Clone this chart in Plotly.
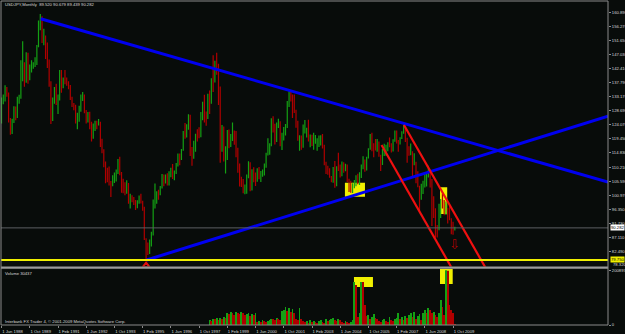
import plotly.graph_objects as go
import pandas as pd

# ---------------- data ----------------
START_MONTH = "1988-06-01"
N_BARS = 258
symbol_header = "USDJPY,Monthly  89.520 90.679 89.439 90.282"

open_ = [
    124.8, 132.6, 133.1, 134.7, 134.2, 125.9, 122.2,
    125.9, 129.6, 126.8, 132.6, 132.9, 143.6, 144.2, 138.1, 145.2, 139.5, 143.0, 143.5,
    143.8, 144.5, 149.9, 157.6, 158.8, 151.8, 152.9, 146.5, 144.0, 137.7, 129.3, 132.6,
    135.4, 131.0, 132.9, 140.6, 136.6, 138.7, 138.4, 137.6, 136.9, 132.8, 130.6, 129.5,
    124.9, 125.6, 129.2, 133.0, 133.6, 128.0, 125.8, 127.7, 123.6, 119.9, 123.3, 124.8,
    124.7, 124.9, 117.8, 115.4, 111.1, 107.6, 106.5, 104.7, 104.2, 105.6, 108.1, 109.0,
    111.9, 108.3, 104.3, 102.8, 101.9, 104.6, 98.5, 100.1, 99.6, 98.5, 97.0, 98.6,
    99.6, 99.0, 96.9, 86.6, 84.0, 83.2, 84.7, 88.4, 97.4, 99.7, 102.0, 101.6,
    103.4, 107.0, 104.9, 106.8, 104.6, 108.6, 109.8, 106.9, 108.5, 111.4, 114.0, 113.6,
    115.9, 121.3, 120.2, 124.0, 126.9, 116.5, 114.6, 118.4, 121.0, 120.7, 120.5, 127.8,
    130.5, 127.0, 126.2, 133.4, 132.3, 138.8, 138.4, 144.4, 141.8, 136.1, 116.1, 123.3,
    113.6, 116.3, 119.7, 118.4, 119.4, 121.4, 121.1, 114.6, 109.6, 106.2, 104.1, 102.1,
    102.2, 107.4, 110.2, 102.8, 108.2, 107.7, 106.1, 109.5, 106.7, 108.1, 109.0, 111.2,
    114.4, 116.6, 117.4, 126.0, 123.6, 119.1, 124.7, 125.0, 118.8, 119.4, 122.5, 123.4,
    131.0, 134.6, 133.6, 132.7, 128.6, 124.3, 119.6, 119.9, 118.4, 121.8, 122.5, 122.5,
    118.8, 119.8, 117.7, 118.1, 118.9, 119.4, 119.8, 120.4, 116.8, 111.4, 109.8, 109.6,
    107.2, 105.9, 109.2, 104.2, 110.4, 109.5, 108.7, 111.4, 109.2, 110.2, 105.8, 103.1,
    102.6, 103.6, 104.6, 107.2, 104.9, 108.3, 110.9, 112.4, 111.2, 113.5, 116.3, 119.8,
    117.9, 117.2, 115.8, 117.7, 113.8, 112.4, 114.4, 114.6, 117.4, 118.0, 116.9, 115.8,
    119.0, 121.0, 118.6, 117.8, 119.5, 121.7, 123.2, 118.7, 115.8, 114.8, 115.3, 111.3,
    111.7, 106.4, 103.8, 99.7, 104.0, 105.5, 106.2, 108.1, 108.8, 106.0, 98.5, 95.5,
    90.6, 89.9, 97.6, 98.8, 98.6, 95.3, 96.4, 94.7, 93.0, 89.9, 89.52,
]
high = [
    133.0, 134.0, 137.0, 136.4, 134.6, 126.3, 126.0,
    130.1, 130.0, 133.2, 133.9, 145.2, 151.4, 144.5, 147.8, 147.6, 143.8, 145.2, 144.5,
    146.2, 150.2, 158.2, 160.35, 159.6, 155.5, 153.3, 151.0, 145.4, 138.3, 133.0, 136.4,
    137.5, 134.0, 142.0, 142.0, 139.5, 142.0, 139.5, 138.3, 137.1, 133.2, 131.2, 130.6,
    128.0, 130.3, 134.0, 134.8, 134.0, 128.9, 128.2, 128.3, 125.0, 124.5, 125.4, 125.4,
    125.9, 125.0, 119.5, 116.0, 112.0, 110.0, 110.4, 105.6, 107.5, 108.4, 109.4, 112.8,
    113.6, 108.6, 106.4, 105.2, 105.9, 105.0, 101.5, 101.0, 100.4, 99.4, 99.3, 100.9,
    101.5, 99.2, 97.2, 86.9, 85.5, 86.5, 89.0, 99.6, 104.8, 102.3, 102.8, 104.0,
    107.9, 107.8, 107.8, 108.2, 108.8, 110.0, 111.2, 109.1, 111.5, 114.6, 114.6, 116.1,
    122.0, 124.6, 124.2, 127.5, 127.3, 116.8, 118.8, 121.1, 122.6, 123.2, 128.2, 131.6,
    133.9, 128.4, 134.2, 135.3, 139.3, 146.8, 145.0, 147.66, 144.0, 136.6, 124.0, 123.5,
    117.0, 122.3, 122.5, 121.0, 124.8, 122.2, 122.0, 116.5, 111.4, 107.0, 106.3, 104.5,
    107.8, 112.1, 111.8, 109.5, 110.1, 108.4, 109.8, 110.2, 108.9, 109.4, 111.4, 114.9,
    119.6, 118.0, 126.2, 126.8, 124.4, 124.8, 126.0, 125.2, 121.4, 123.3, 124.3, 131.8,
    135.0, 135.15, 134.0, 134.0, 129.0, 125.4, 120.6, 120.5, 124.1, 125.6, 123.1, 125.7,
    120.9, 120.8, 121.4, 120.7, 119.6, 120.5, 120.6, 121.0, 117.5, 111.9, 110.6, 109.8,
    107.3, 110.2, 112.2, 110.5, 114.9, 111.0, 112.0, 111.8, 111.3, 111.0, 106.4, 105.7,
    104.9, 106.0, 107.5, 108.0, 108.5, 111.0, 113.7, 112.7, 113.6, 116.4, 121.0, 121.4,
    118.0, 119.4, 119.4, 118.6, 114.2, 116.1, 117.8, 117.5, 118.3, 119.9, 118.0, 119.3,
    122.2, 122.2, 119.1, 120.0, 121.9, 124.14, 123.7, 119.8, 117.0, 117.9, 115.4, 114.7,
    111.9, 108.8, 104.1, 104.7, 105.7, 108.6, 108.5, 110.66, 109.3, 106.3, 100.6, 96.7,
    91.2, 98.2, 99.7, 101.45, 99.4, 98.9, 96.8, 97.8, 93.4, 92.3, 90.679,
]
low = [
    124.5, 130.8, 131.7, 133.2, 124.8, 120.8, 121.0,
    124.6, 125.5, 126.3, 130.9, 132.6, 138.3, 136.5, 137.8, 137.5, 138.6, 141.2, 142.4,
    143.0, 143.6, 149.4, 155.0, 150.8, 150.1, 145.6, 142.6, 136.5, 124.3, 125.3, 130.9,
    130.5, 127.6, 132.0, 134.5, 136.0, 137.3, 136.8, 135.7, 132.2, 129.9, 128.8, 124.5,
    122.6, 125.0, 128.3, 131.8, 127.8, 124.5, 124.8, 122.6, 118.6, 119.5, 122.0, 122.6,
    123.8, 116.8, 114.7, 110.1, 104.9, 105.2, 104.2, 100.4, 103.9, 105.0, 105.5, 107.9,
    107.5, 101.8, 101.6, 101.0, 101.5, 98.2, 96.6, 98.7, 97.8, 96.1, 96.7, 98.2,
    98.3, 95.9, 86.3, 79.75, 81.4, 81.7, 84.2, 87.8, 96.6, 98.2, 99.5, 101.0,
    103.2, 103.9, 104.8, 104.2, 104.2, 106.9, 106.3, 105.9, 107.9, 110.4, 110.8, 112.5,
    115.5, 119.5, 119.9, 122.4, 113.8, 110.6, 112.9, 115.2, 118.6, 119.6, 120.0, 125.5,
    124.8, 123.7, 125.9, 127.6, 130.9, 134.8, 137.9, 140.4, 130.5, 111.6, 115.2, 112.0,
    108.1, 112.5, 116.4, 116.8, 118.7, 117.5, 113.4, 108.3, 103.8, 103.7, 101.6, 101.3,
    101.5, 106.5, 102.3, 102.5, 105.2, 104.0, 105.4, 106.2, 105.3, 107.0, 107.4, 110.0,
    114.0, 114.2, 117.0, 121.5, 117.6, 118.4, 123.0, 117.0, 115.8, 118.9, 120.5, 123.0,
    129.9, 131.7, 126.3, 127.9, 123.1, 118.8, 115.5, 115.9, 116.5, 121.2, 119.9, 118.6,
    116.7, 117.1, 115.9, 117.8, 115.5, 116.8, 117.3, 116.3, 110.8, 107.9, 107.7, 106.7,
    105.2, 105.1, 103.4, 103.9, 108.9, 106.8, 107.2, 108.3, 108.8, 105.3, 102.0, 101.8,
    101.7, 103.3, 103.9, 104.6, 104.3, 106.6, 109.5, 108.7, 109.1, 113.0, 115.9, 115.4,
    113.4, 115.6, 115.2, 113.6, 108.9, 110.9, 113.8, 113.9, 115.4, 116.7, 115.0, 115.3,
    118.5, 117.9, 115.2, 117.6, 119.4, 121.1, 118.4, 111.6, 113.9, 114.1, 107.2, 110.8,
    104.9, 103.6, 95.8, 99.5, 101.4, 103.5, 103.8, 106.8, 103.5, 90.9, 93.5, 87.1,
    87.1, 89.5, 93.5, 96.6, 94.4, 94.5, 91.7, 92.8, 88.2, 88.0, 89.439,
]
close = [
    132.6, 133.1, 134.7, 134.2, 125.9, 122.2, 125.9,
    129.6, 126.8, 132.6, 132.9, 143.6, 144.2, 138.1, 145.2, 139.5, 143.0, 143.5, 143.8,
    144.5, 149.9, 157.6, 158.8, 151.8, 152.9, 146.5, 144.0, 137.7, 129.3, 132.6, 135.4,
    131.0, 132.9, 140.6, 136.6, 138.7, 138.4, 137.6, 136.9, 132.8, 130.6, 129.5, 124.9,
    125.6, 129.2, 133.0, 133.6, 128.0, 125.8, 127.7, 123.6, 119.9, 123.3, 124.8, 124.7,
    124.9, 117.8, 115.4, 111.1, 107.6, 106.5, 104.7, 104.2, 105.6, 108.1, 109.0, 111.9,
    108.3, 104.3, 102.8, 101.9, 104.6, 98.5, 100.1, 99.6, 98.5, 97.0, 98.6, 99.6,
    99.0, 96.9, 86.6, 84.0, 83.2, 84.7, 88.4, 97.4, 99.7, 102.0, 101.6, 103.4,
    107.0, 104.9, 106.8, 104.6, 108.6, 109.8, 106.9, 108.5, 111.4, 114.0, 113.6, 115.9,
    121.3, 120.2, 124.0, 126.9, 116.5, 114.6, 118.4, 121.0, 120.7, 120.5, 127.8, 130.5,
    127.0, 126.2, 133.4, 132.3, 138.8, 138.4, 144.4, 141.8, 136.1, 116.1, 123.3, 113.6,
    116.3, 119.7, 118.4, 119.4, 121.4, 121.1, 114.6, 109.6, 106.2, 104.1, 102.1, 102.2,
    107.4, 110.2, 102.8, 108.2, 107.7, 106.1, 109.5, 106.7, 108.1, 109.0, 111.2, 114.4,
    116.6, 117.4, 126.0, 123.6, 119.1, 124.7, 125.0, 118.8, 119.4, 122.5, 123.4, 131.0,
    134.6, 133.6, 132.7, 128.6, 124.3, 119.6, 119.9, 118.4, 121.8, 122.5, 122.5, 118.8,
    119.8, 117.7, 118.1, 118.9, 119.4, 119.8, 120.4, 116.8, 111.4, 109.8, 109.6, 107.2,
    105.9, 109.2, 104.2, 110.4, 109.5, 108.7, 111.4, 109.2, 110.2, 105.8, 103.1, 102.6,
    103.6, 104.6, 107.2, 104.9, 108.3, 110.9, 112.4, 111.2, 113.5, 116.3, 119.8, 117.9,
    117.2, 115.8, 117.7, 113.8, 112.4, 114.4, 114.6, 117.4, 118.0, 116.9, 115.8, 119.0,
    121.0, 118.6, 117.8, 119.5, 121.7, 123.2, 118.7, 115.8, 114.8, 115.3, 111.3, 111.7,
    106.4, 103.8, 99.7, 104.0, 105.5, 106.2, 108.1, 108.8, 106.0, 98.5, 95.5, 90.6,
    89.9, 97.6, 98.8, 98.6, 95.3, 96.4, 94.7, 93.0, 89.9, 89.5, 90.282,
]
volume = [
    0, 0, 0, 0, 0, 0, 0,
    0, 0, 0, 0, 0, 0, 0, 0, 0, 0, 0, 0,
    0, 0, 0, 0, 0, 0, 0, 0, 0, 0, 0, 0,
    0, 0, 0, 0, 0, 0, 0, 0, 0, 0, 0, 0,
    0, 0, 0, 0, 0, 0, 0, 0, 0, 0, 0, 0,
    0, 0, 0, 0, 0, 0, 0, 0, 0, 0, 0, 0,
    0, 0, 0, 0, 0, 0, 0, 0, 0, 0, 0, 0,
    0, 0, 0, 0, 0, 0, 0, 0, 0, 0, 0, 0,
    0, 0, 0, 0, 0, 0, 0, 0, 0, 0, 0, 0,
    0, 0, 0, 0, 0, 0, 0, 0, 0, 0, 0, 0,
    0, 0, 0, 183000, 146400, 219600, 219600, 256200, 183000, 256200, 219600, 292800,
    256200, 439200, 402600, 475800, 439200, 366000, 475800, 439200, 402600, 475800, 439200, 366000,
    402600, 439200, 329400, 402600, 366000, 439200, 109800, 146400, 109800, 183000, 146400, 109800,
    146400, 183000, 219600, 219600, 183000, 256200, 219600, 183000, 512400, 549000, 658800, 512400,
    622200, 475800, 585600, 439200, 219600, 183000, 622200, 219600, 146400, 109800, 146400, 73200,
    183000, 109800, 146400, 109800, 73200, 146400, 183000, 109800, 73200, 219600, 146400, 183000,
    219600, 256200, 183000, 146400, 219600, 183000, 109800, 73200, 146400, 109800, 73200, 109800,
    183000, 1573800, 1464000, 292800, 439200, 1573800, 1573800, 732000, 329400, 366000, 219600, 292800,
    402600, 256200, 219600, 146400, 109800, 183000, 219600, 146400, 109800, 292800, 183000, 146400,
    219600, 256200, 439200, 219600, 292800, 183000, 329400, 256200, 366000, 439200, 292800, 475800,
    219600, 329400, 402600, 183000, 439200, 549000, 439200, 622200, 549000, 439200, 475800, 366000,
    292800, 439200, 915000, 658800, 366000, 2008979, 1985000, 732000, 549000, 439200, 30437,
]

x_tick_dates = ["1988-06-01", "1989-10-01", "1991-02-01", "1992-06-01", "1993-10-01",
                "1995-02-01", "1996-06-01", "1997-10-01", "1999-02-01", "2000-06-01",
                "2001-10-01", "2003-02-01", "2004-06-01", "2005-10-01", "2007-02-01",
                "2008-06-01", "2009-10-01"]
x_tick_text = ["1 Jun 1988", "1 Oct 1989", "1 Feb 1991", "1 Jun 1992", "1 Oct 1993",
               "1 Feb 1995", "1 Jun 1996", "1 Oct 1997", "1 Feb 1999", "1 Jun 2000",
               "1 Oct 2001", "1 Feb 2003", "1 Jun 2004", "1 Oct 2005", "1 Feb 2007",
               "1 Jun 2008", "1 Oct 2009"]
price_ticks = [82.49, 87.11, 91.73, 96.35, 100.97, 105.59, 110.21, 114.83, 119.45,
               124.07, 128.69, 133.17, 137.79, 142.41, 147.03, 151.65, 156.27, 160.89]
price_tick_text = ["82.490", "87.110", "91.730", "96.350", "100.970", "105.590", "110.210",
                   "114.830", "119.450", "124.070", "128.690", "133.170", "137.790",
                   "142.410", "147.030", "151.650", "156.270", "160.890"]
volume_ticks = [0, 2008979]
volume_tick_text = ["0", "2008979"]

# drawn objects (anchor dates / prices)
blue_upper_x, blue_upper_y = ["1990-04-07", "2017-01-26"], [158.75, 105.25]
blue_lower_x, blue_lower_y = ["1995-04-10", "2017-01-26"], [79.77, 126.86]
red_upper_x, red_upper_y = ["2007-06-07", "2011-08-13"], [123.98, 73.22]
red_lower_x, red_lower_y = ["2006-05-16", "2010-01-04"], [117.43, 73.22]
support_level = 79.75
last_price = 90.282
box_price_2005 = (["2004-08-22", "2005-08-03"], [100.5, 105.08])
box_price_2009 = (["2009-02-18", "2009-06-22"], [94.83, 103.58])
box_vol_2005 = (["2005-01-25", "2005-12-19"], [1391000, 1757000])
box_vol_2009 = (["2009-02-18", "2009-09-25"], [1500900, 2050000])
arrow_up_at = ("1995-04-01", 77.94)
arrow_down_at = ("2009-10-25", 85.0)

x_range = ["1988-05-23", "2017-01-26"]
price_range = [77.64, 164.58]
volume_range = [0, 2050000]

# ---------------- styling ----------------
BG = "#080c0a"
UP = "#14a014"
DN = "#b00000"
GRID = "#8a8a8a"
TXT = "#d8d8d8"
FONT = "Liberation Sans"
FS = 4.2

months = pd.date_range(START_MONTH, periods=N_BARS, freq="MS")
vol_colors = [UP if i > 0 and volume[i] > volume[i - 1] else DN for i in range(N_BARS)]

fig = go.Figure()

fig.add_trace(go.Ohlc(
    x=months, open=open_, high=high, low=low, close=close, tickwidth=0,
    increasing=dict(line=dict(color=UP, width=1.2)),
    decreasing=dict(line=dict(color=DN, width=1.2)),
    xaxis="x", yaxis="y", showlegend=False, hoverinfo="skip"))

fig.add_trace(go.Bar(x=months, y=volume, marker=dict(color=vol_colors, line=dict(width=0)),
                     xaxis="x", yaxis="y2", showlegend=False, hoverinfo="skip"))

for xs, ys, col, w in [(blue_upper_x, blue_upper_y, "#0000f0", 3),
                       (blue_lower_x, blue_lower_y, "#0000f0", 3),
                       (red_upper_x, red_upper_y, "#f01010", 2.2),
                       (red_lower_x, red_lower_y, "#f01010", 2.2)]:
    fig.add_trace(go.Scatter(x=xs, y=ys, mode="lines", line=dict(color=col, width=w),
                             xaxis="x", yaxis="y", showlegend=False, hoverinfo="skip"))

fig.add_trace(go.Scatter(x=[arrow_up_at[0]], y=[arrow_up_at[1]], mode="markers",
                         marker=dict(symbol="triangle-up-open", size=6, color="#e01010",
                                     line=dict(width=2, color="#e01010")),
                         xaxis="x", yaxis="y", showlegend=False, hoverinfo="skip"))

shapes = []
for (bx, by), yref in [(box_price_2005, "y"), (box_price_2009, "y"),
                       (box_vol_2005, "y2"), (box_vol_2009, "y2")]:
    shapes.append(dict(type="rect", xref="x", yref=yref, x0=bx[0], x1=bx[1], y0=by[0], y1=by[1],
                       fillcolor="#f0f000", line=dict(width=0), layer="below"))
shapes.append(dict(type="line", xref="paper", yref="y", x0=0, x1=1, y0=last_price, y1=last_price,
                   line=dict(color="#5a5f63", width=1)))
shapes.append(dict(type="line", xref="paper", yref="y", x0=0, x1=1, y0=support_level, y1=support_level,
                   line=dict(color="#f0f000", width=2)))
# frame & window separator
shapes += [
    dict(type="rect", xref="paper", yref="paper", x0=0, x1=1, y0=0.1733, y1=0.1806,
         fillcolor="#9a9a9a", line=dict(width=0)),
    dict(type="line", xref="paper", yref="paper", x0=0, x1=0, y0=0, y1=1, line=dict(color=GRID, width=1)),
    dict(type="line", xref="paper", yref="paper", x0=0, x1=1, y0=1, y1=1, line=dict(color=GRID, width=1)),
    dict(type="line", xref="paper", yref="paper", x0=1, x1=1, y0=0, y1=1, line=dict(color=GRID, width=1)),
    dict(type="line", xref="paper", yref="paper", x0=0, x1=1, y0=0, y1=0, line=dict(color=GRID, width=1)),
]

annotations = [
    dict(text=symbol_header, xref="paper", yref="paper", x=0.004, y=0.988, xanchor="left",
         yanchor="middle", showarrow=False, font=dict(size=FS, color=TXT, family=FONT)),
    dict(text="Volume 30437", xref="paper", yref="paper", x=0.004, y=0.158, xanchor="left",
         yanchor="middle", showarrow=False, font=dict(size=FS, color=TXT, family=FONT)),
    dict(text="Interbank FX Trader 4, © 2001-2009 MetaQuotes Software Corp.", xref="paper",
         yref="paper", x=0.004, y=0.012, xanchor="left", yanchor="middle", showarrow=False,
         font=dict(size=FS, color=TXT, family=FONT)),
    dict(text="⇩", xref="x", yref="y", x=arrow_down_at[0], y=arrow_down_at[1], showarrow=False,
         font=dict(size=13, color="#b00000", family="DejaVu Sans")),
    dict(text="90.282", xref="paper", yref="y", x=1, y=last_price, xanchor="left", xshift=2,
         showarrow=False, bgcolor="#ffffff", borderpad=0,
         font=dict(size=FS, color="#000000", family=FONT)),
    dict(text="79.750", xref="paper", yref="y", x=1, y=support_level, xanchor="left", xshift=2,
         yanchor="bottom", yshift=-3, showarrow=False, bgcolor="#f0f000", borderpad=0,
         font=dict(size=FS, color="#000000", family=FONT)),
    dict(text="78.320", xref="paper", yref="paper", x=1, y=0.1855, xanchor="left", xshift=3,
         yanchor="middle", showarrow=False, font=dict(size=FS, color=TXT, family=FONT)),
]

axis_font = dict(size=FS, color=TXT, family=FONT)
fig.update_layout(
    width=625, height=334, margin=dict(l=1, r=17, t=1, b=9),
    paper_bgcolor=BG, plot_bgcolor=BG, showlegend=False, bargap=0.5,
    shapes=shapes, annotations=annotations,
    xaxis=dict(type="date", range=x_range, domain=[0, 1], anchor="y2",
               tickvals=x_tick_dates, ticktext=x_tick_text, ticks="outside", ticklen=2,
               tickcolor=GRID, tickfont=axis_font, ticklabelshift=11, ticklabelstandoff=0,
               showgrid=False, zeroline=False, showline=False, automargin=False,
               rangeslider=dict(visible=False), fixedrange=True),
    yaxis=dict(domain=[0.1806, 1], range=price_range, side="right", anchor="x",
               tickvals=price_ticks, ticktext=price_tick_text, ticks="outside", ticklen=2,
               tickcolor=GRID, tickfont=axis_font, showgrid=False, zeroline=False,
               showline=False, automargin=False, fixedrange=True),
    yaxis2=dict(domain=[0, 0.1728], range=volume_range, side="right", anchor="x",
                tickvals=volume_ticks, ticktext=volume_tick_text, ticks="outside", ticklen=2,
                tickcolor=GRID, tickfont=axis_font, showgrid=False, zeroline=False,
                showline=False, automargin=False, fixedrange=True),
)

fig.write_html("out.html")
